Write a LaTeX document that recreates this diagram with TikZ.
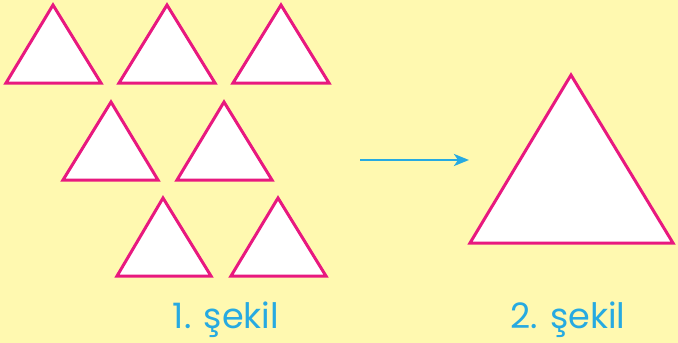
\documentclass[tikz,border=0pt]{standalone}
\usepackage{fontspec}
\setmainfont{Poppins}
\usepackage{xcolor}
\usetikzlibrary{arrows.meta}
\definecolor{fundo}{HTML}{FFF9B0}
\definecolor{rosa}{HTML}{E8197F}
\definecolor{ciano}{HTML}{27AAE1}

\begin{document}
\begin{tikzpicture}[x=1pt, y=-1pt,
    tri/.style={draw=rosa, fill=white, line width=3pt, line join=miter},
    rotulo/.style={text=ciano, font=\fontsize{35}{40}\selectfont, anchor=base}]
  % Fundo
  \fill[fundo] (0,0) rectangle (678,343);
  \useasboundingbox (0,0) rectangle (678,343);

  % Primeira fila de triângulos
  \draw[tri] (6,83) -- (53,5) -- (101,83) -- cycle;
  \draw[tri] (119,83) -- (167,5) -- (215,83) -- cycle;
  \draw[tri] (233,83) -- (281,5) -- (329,83) -- cycle;

  % Segunda fila
  \draw[tri] (63,180) -- (111,102) -- (158,180) -- cycle;
  \draw[tri] (177,180) -- (224,102) -- (272,180) -- cycle;

  % Terceira fila
  \draw[tri] (117,276) -- (163,198) -- (211,276) -- cycle;
  \draw[tri] (231,276) -- (278,198) -- (326,276) -- cycle;

  % Triângulo grande
  \draw[tri] (470,243) -- (571,75) -- (673,243) -- cycle;

  % Seta
  \coordinate (ini) at (360,160);
  \coordinate (fim) at (469,160);
  \draw[ciano, line width=2.5pt, -{Stealth[length=15pt, width=12pt, inset=4pt]}] (ini) -- (fim);

  % Legendas
  \node[rotulo] (s1) at (226,328) {1. şekil};
  \node[rotulo] (s2) at (568,328) {2. şekil};
\end{tikzpicture}
\end{document}
